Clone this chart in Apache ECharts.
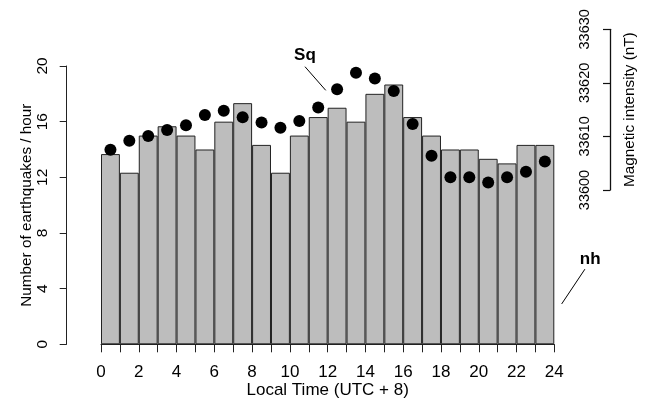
<!DOCTYPE html>
<html>
<head>
<meta charset="utf-8">
<script src="https://cdn.jsdelivr.net/npm/echarts@6/dist/echarts.min.js"></script>
<style>
html,body{margin:0;padding:0;background:#fff;}
#chart{width:653px;height:405px;}
</style>
</head>
<body>
<div id="chart"></div>
<script>
// Hours (bar centres are hour + 0.5)
const hours = [0,1,2,3,4,5,6,7,8,9,10,11,12,13,14,15,16,17,18,19,20,21,22,23];
// Number of earthquakes / hour
const quakesPerHour = [13.67,12.33,15,15.67,15,14,16,17.33,14.33,12.33,15,16.33,17,16,18,18.67,16.33,15,14,14,13.33,13,14.33,14.33];
// Magnetic intensity (nT), Sq variation
const magneticNT = [33607.5,33609.2,33610.1,33611.2,33612.1,33614.0,33614.8,33613.6,33612.6,33611.6,33612.9,33615.4,33618.8,33621.9,33620.8,33618.5,33612.3,33606.4,33602.4,33602.4,33601.4,33602.4,33603.4,33605.3];
const xTickLabels = [0,2,4,6,8,10,12,14,16,18,20,22,24];
const leftTicks = [0,4,8,12,16,20];
const rightTicks = [33600,33610,33620,33630];

const FONT = 'Liberation Sans, Arial, Helvetica, sans-serif';
const chart = echarts.init(document.getElementById('chart'), null, {renderer:'canvas'});

const gridL = 101, gridR = 98.7;
const option = {
  animation:false,
  backgroundColor:'#ffffff',
  textStyle:{fontFamily:FONT, color:'#000'},
  grid:[
    {left:gridL, right:gridR, top:66, bottom:60.7, outerBoundsMode:'none'},
    {left:gridL, right:gridR, top:29.3, height:160.7, outerBoundsMode:'none'}
  ],
  xAxis:[
    {
      type:'value', gridIndex:0, min:0, max:24, interval:1,
      name:'Local Time (UTC + 8)', nameLocation:'middle', nameGap:38, nameMoveOverlap:false,
      nameTextStyle:{fontSize:17, color:'#000', fontFamily:FONT},
      axisLine:{show:true, onZero:false, lineStyle:{color:'#222', width:1}},
      axisTick:{show:true, length:8, lineStyle:{color:'#222'}},
      axisLabel:{fontSize:17, color:'#000', margin:20, fontFamily:FONT,
        formatter:function(v){ return xTickLabels.indexOf(v) >= 0 ? String(v) : ''; }},
      splitLine:{show:false}
    },
    {
      type:'value', gridIndex:1, min:0, max:24, show:false
    }
  ],
  yAxis:[
    {
      type:'value', gridIndex:0, min:leftTicks[0], max:leftTicks[leftTicks.length-1], interval:4,
      position:'left', offset:34.3,
      name:'Number of earthquakes / hour', nameLocation:'middle', nameGap:32, nameRotate:90, nameMoveOverlap:false,
      nameTextStyle:{fontSize:15.3, color:'#000', fontFamily:FONT},
      axisLine:{show:true, onZero:false, lineStyle:{color:'#222', width:1}},
      axisTick:{show:true, length:7, lineStyle:{color:'#222'}},
      axisLabel:{fontSize:15.5, color:'#000', rotate:90, margin:16, fontFamily:FONT},
      splitLine:{show:false}
    },
    {
      type:'value', gridIndex:1, min:rightTicks[0], max:rightTicks[rightTicks.length-1], interval:10,
      position:'right', offset:55.7,
      name:'Magnetic intensity (nT)', nameLocation:'middle', nameGap:12, nameRotate:90, nameMoveOverlap:false,
      nameTextStyle:{fontSize:15.3, color:'#000', fontFamily:FONT},
      axisLine:{show:true, onZero:false, lineStyle:{color:'#111', width:1.3}},
      axisTick:{show:true, inside:true, length:7, lineStyle:{color:'#111', width:1.2}},
      axisLabel:{inside:true, fontSize:14.5, color:'#000', rotate:90, margin:18, fontFamily:FONT,
        formatter:function(v){ return String(v); }},
      splitLine:{show:false}
    }
  ],
  series:[
    {
      type:'bar', xAxisIndex:0, yAxisIndex:0,
      data: hours.map((h,i)=>[h+0.5, quakesPerHour[i]]),
      barWidth:'100%', barGap:'0%',
      itemStyle:{color:'#bdbdbd', borderColor:'#222', borderWidth:1}
    },
    {
      type:'scatter', xAxisIndex:1, yAxisIndex:1,
      data: hours.map((h,i)=>[h+0.5, magneticNT[i]]),
      symbol:'circle', symbolSize:12,
      itemStyle:{color:'#000', opacity:1}
    }
  ]
};
chart.setOption(option);

// Annotations anchored in data coordinates of the bar grid
const sqText = chart.convertToPixel({gridIndex:0}, [10.8, 20.8]);
const sqA = chart.convertToPixel({gridIndex:0}, [10.8, 19.95]);
const sqB = chart.convertToPixel({gridIndex:0}, [11.9, 18.25]);
const nhText = chart.convertToPixel({gridIndex:0}, [25.9, 6.1]);
const nhA = chart.convertToPixel({gridIndex:0}, [25.62, 5.4]);
const nhB = chart.convertToPixel({gridIndex:0}, [24.39, 2.9]);
chart.setOption({
  graphic:[
    {type:'text', x:sqText[0], y:sqText[1], style:{text:'Sq', font:'bold 17px '+FONT, fill:'#000', align:'center', verticalAlign:'middle'}},
    {type:'line', shape:{x1:sqA[0], y1:sqA[1], x2:sqB[0], y2:sqB[1]}, style:{stroke:'#000', lineWidth:1}},
    {type:'text', x:nhText[0], y:nhText[1], style:{text:'nh', font:'bold 17px '+FONT, fill:'#000', align:'center', verticalAlign:'middle'}},
    {type:'line', shape:{x1:nhA[0], y1:nhA[1], x2:nhB[0], y2:nhB[1]}, style:{stroke:'#000', lineWidth:1}}
  ]
});
</script>
</body>
</html>
